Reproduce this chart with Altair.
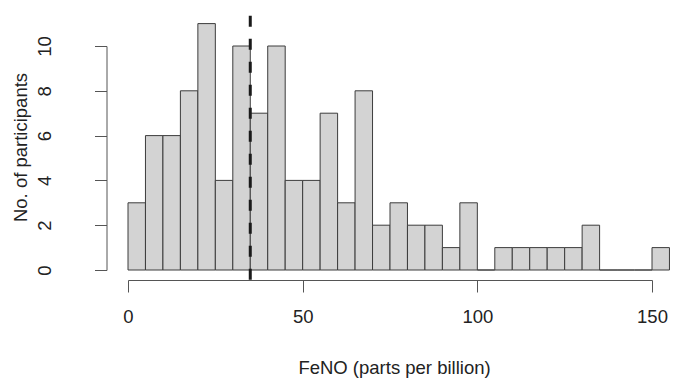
import altair as alt
import pandas as pd

bin_start = [0, 5, 10, 15, 20, 25, 30, 35, 40, 45, 50, 55, 60, 65, 70, 75,
             80, 85, 90, 95, 100, 105, 110, 115, 120, 125, 130, 135, 140, 145, 150]
counts = [3, 6, 6, 8, 11, 4, 10, 7, 10, 4, 4, 7, 3, 8, 2, 3,
          2, 2, 1, 3, 0, 1, 1, 1, 1, 1, 2, 0, 0, 0, 1]
bin_width = 5
threshold = 35
x_ticks = [0, 50, 100, 150]
y_ticks = [0, 2, 4, 6, 8, 10]
region_y = [-0.44, 11.44]  # R plot-region limits for the abline

df = pd.DataFrame({
    "start": bin_start,
    "end": [s + bin_width for s in bin_start],
    "count": counts,
    "base": [0] * len(bin_start),
})
ref = pd.DataFrame({"x": [threshold], "y": [region_y[0]], "y2": [region_y[1]]})

FONT = "Liberation Sans"
TXT = "#222222"
LINE = "#555555"

xscale = alt.Scale(domain=[0, 150], nice=False, zero=False)
yscale = alt.Scale(domain=[0, 10], nice=False, zero=False)

bars = alt.Chart(df).mark_bar(
    fill="#d3d3d3", stroke="#3c3c3c", strokeWidth=1, opacity=1
).encode(
    x=alt.X("start:Q", scale=xscale,
            axis=alt.Axis(values=x_ticks, title="FeNO (parts per billion)",
                          offset=10, tickSize=12, labelPadding=15,
                          labelFontSize=18.5, titleFontSize=18.5,
                          labelFont=FONT, titleFont=FONT,
                          labelColor=TXT, titleColor=TXT,
                          titleFontWeight="normal",
                          domainColor=LINE, tickColor=LINE,
                          domainWidth=1, tickWidth=1,
                          grid=False, labelFlush=False, labelOverlap=False,
                          labelAlign="center", labelBaseline="top",
                          titleX=266, titleY=93, titleAlign="center",
                          titleBaseline="alphabetic")),
    x2="end:Q",
    y=alt.Y("base:Q", scale=yscale,
            axis=alt.Axis(values=y_ticks, title="No. of participants",
                          offset=21.5, tickSize=12, labelPadding=50,
                          labelFontSize=18.5, titleFontSize=18.5,
                          labelFont=FONT, titleFont=FONT,
                          labelColor=TXT, titleColor=TXT,
                          titleFontWeight="normal",
                          domainColor=LINE, tickColor=LINE,
                          domainWidth=1, tickWidth=1,
                          grid=False, labelFlush=False, labelOverlap=False,
                          labelAngle=270, labelAlign="center",
                          labelBaseline="middle",
                          titleAngle=270, titleX=-80, titleY=101,
                          titleAlign="center", titleBaseline="alphabetic")),
    y2="count:Q",
)

rule = alt.Chart(ref).mark_rule(
    color="#1a1a1a", strokeWidth=3, strokeDash=[11, 12]
).encode(
    x=alt.X("x:Q", scale=xscale),
    y=alt.Y("y:Q", scale=yscale),
    y2="y2:Q",
)

chart = alt.layer(bars, rule).properties(
    width=524, height=224,
    background="white",
    autosize=alt.AutoSizeParams(type="none"),
    padding={"left": 120, "top": 38, "right": 20, "bottom": 108},
).configure_view(strokeWidth=0, strokeOpacity=0)

chart.save("out.html", embed_options={"renderer": "svg", "actions": False})
